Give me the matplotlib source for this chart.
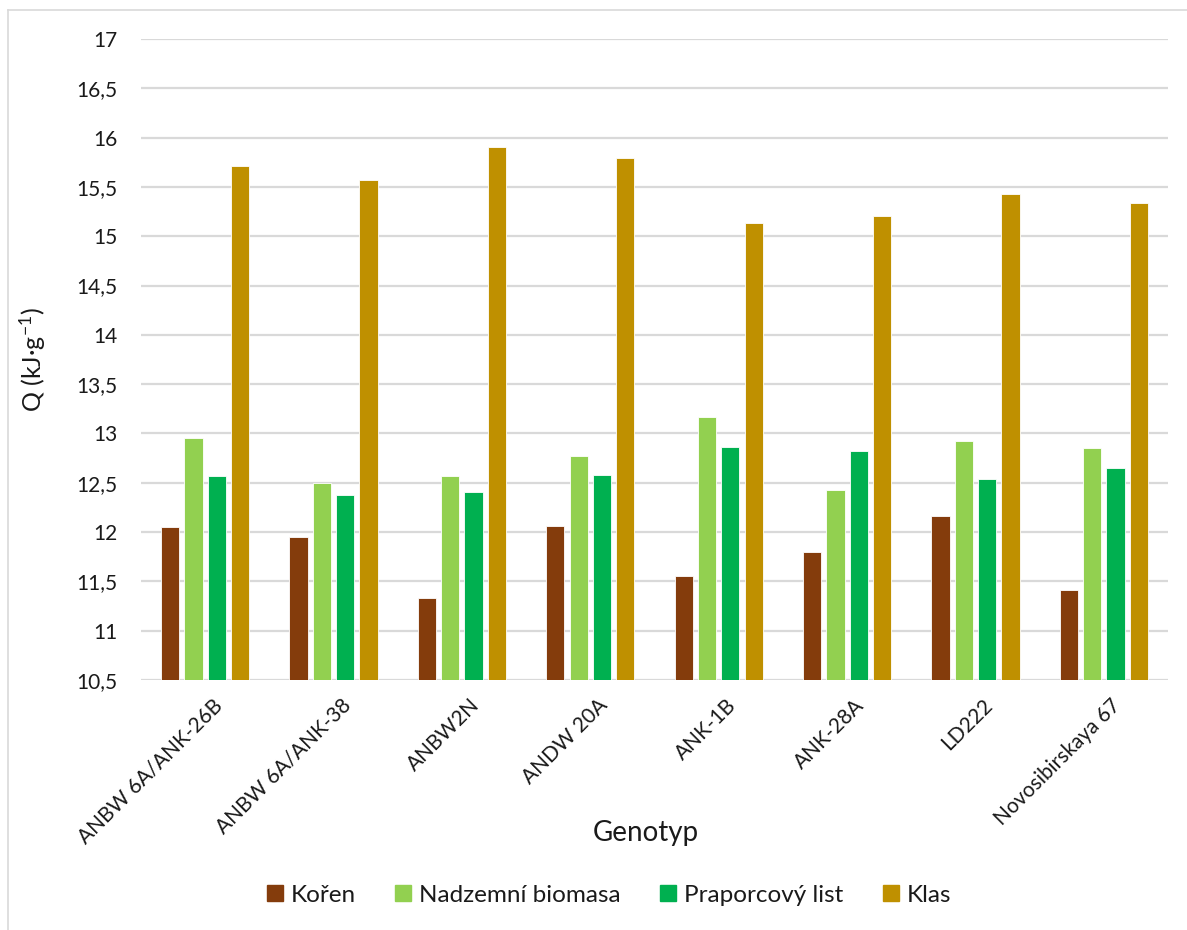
import numpy as np
import matplotlib
matplotlib.use("Agg")
import matplotlib.pyplot as plt
import matplotlib.transforms as mtransforms
from matplotlib.lines import Line2D
from matplotlib.ticker import MultipleLocator, FuncFormatter

plt.rcParams['font.family'] = ['Lato', 'DejaVu Sans']
plt.rcParams['mathtext.fontset'] = 'custom'
plt.rcParams['mathtext.rm'] = 'Lato'
plt.rcParams['mathtext.it'] = 'Lato:italic'

genotypes = ["ANBW 6A/ANK-26B", "ANBW 6A/ANK-38", "ANBW2N", "ANDW 20A",
             "ANK-1B", "ANK-28A", "LD222", "Novosibirskaya 67"]
koren = [12.05, 11.95, 11.33, 12.06, 11.55, 11.80, 12.16, 11.41]
nadzemni = [12.95, 12.50, 12.57, 12.77, 13.17, 12.43, 12.92, 12.85]
praporcovy = [12.57, 12.38, 12.41, 12.58, 12.86, 12.82, 12.54, 12.65]
klas = [15.71, 15.57, 15.90, 15.79, 15.13, 15.21, 15.43, 15.34]

series_names = ["Kořen", "Nadzemní biomasa", "Praporcový list", "Klas"]
series_values = [koren, nadzemni, praporcovy, klas]
colors = ["#843C0C", "#92D050", "#00B050", "#BF9000"]

y_min, y_max = 10.5, 17.0

fig = plt.figure(figsize=(11.87, 9.30), dpi=100)
ax = fig.add_axes([141 / 1187, 1 - 680 / 930, (1168 - 141) / 1187, (680 - 39) / 930])

x = np.arange(len(genotypes))
pitch = 0.1815
width = 0.142
for i, (name, vals, col) in enumerate(zip(series_names, series_values, colors)):
    offs = (i - 1.5) * pitch
    heights = np.array(vals) - y_min
    ax.bar(x + offs, heights, width=width, bottom=y_min, color=col,
           edgecolor="white", linewidth=0.6, label=name, zorder=3)

ax.set_xlim(-0.5, len(genotypes) - 0.5)
ax.set_ylim(y_min, y_max)
ax.yaxis.set_major_locator(MultipleLocator(0.5))
ax.yaxis.set_major_formatter(FuncFormatter(
    lambda v, p: (f"{v:g}").replace(".", ",")))
ax.grid(axis="y", color="#D9D9D9", linewidth=1.6, zorder=0)
ax.set_axisbelow(True)
for s in ax.spines.values():
    s.set_visible(False)
ax.tick_params(axis="y", length=0, pad=17, labelsize=15, labelcolor="#1a1a1a")
ax.tick_params(axis="x", length=0, pad=11, labelsize=15, labelcolor="#1a1a1a")
ax.set_xticks(x)
ax.set_xticklabels(genotypes, rotation=45, ha="right", va="top",
                   rotation_mode="anchor")
shift = mtransforms.ScaledTranslation(7 / 100, 0, fig.dpi_scale_trans)
for lbl in ax.get_xticklabels():
    lbl.set_transform(lbl.get_transform() + shift)

fig.text(646 / 1187, 1 - 833 / 930, "Genotyp", ha="center", va="center",
         fontsize=20, color="#1a1a1a")
fig.text(33 / 1187, 1 - 360 / 930, r"Q (kJ·g$^{\mathrm{-1}}$)", ha="center",
         va="center", rotation=90, fontsize=18, color="#1a1a1a")

handles = [Line2D([0], [0], marker="s", linestyle="none", markersize=11,
                  markerfacecolor=c, markeredgecolor=c) for c in colors]
fig.legend(handles, series_names, loc="center", ncol=4,
           bbox_to_anchor=(608 / 1187, 1 - 895 / 930), frameon=False,
           fontsize=17.5, handlelength=0.8, handletextpad=0.25,
           columnspacing=1.55, labelcolor="#1a1a1a")

# chart area border
fig.add_artist(Line2D([8 / 1187, 1.0], [1 - 10 / 930] * 2,
                      transform=fig.transFigure, color="#D9D9D9", lw=1.2))
fig.add_artist(Line2D([8 / 1187] * 2, [0.0, 1 - 10 / 930],
                      transform=fig.transFigure, color="#D9D9D9", lw=1.2))

fig.savefig("out.png", dpi=100, facecolor="white")
